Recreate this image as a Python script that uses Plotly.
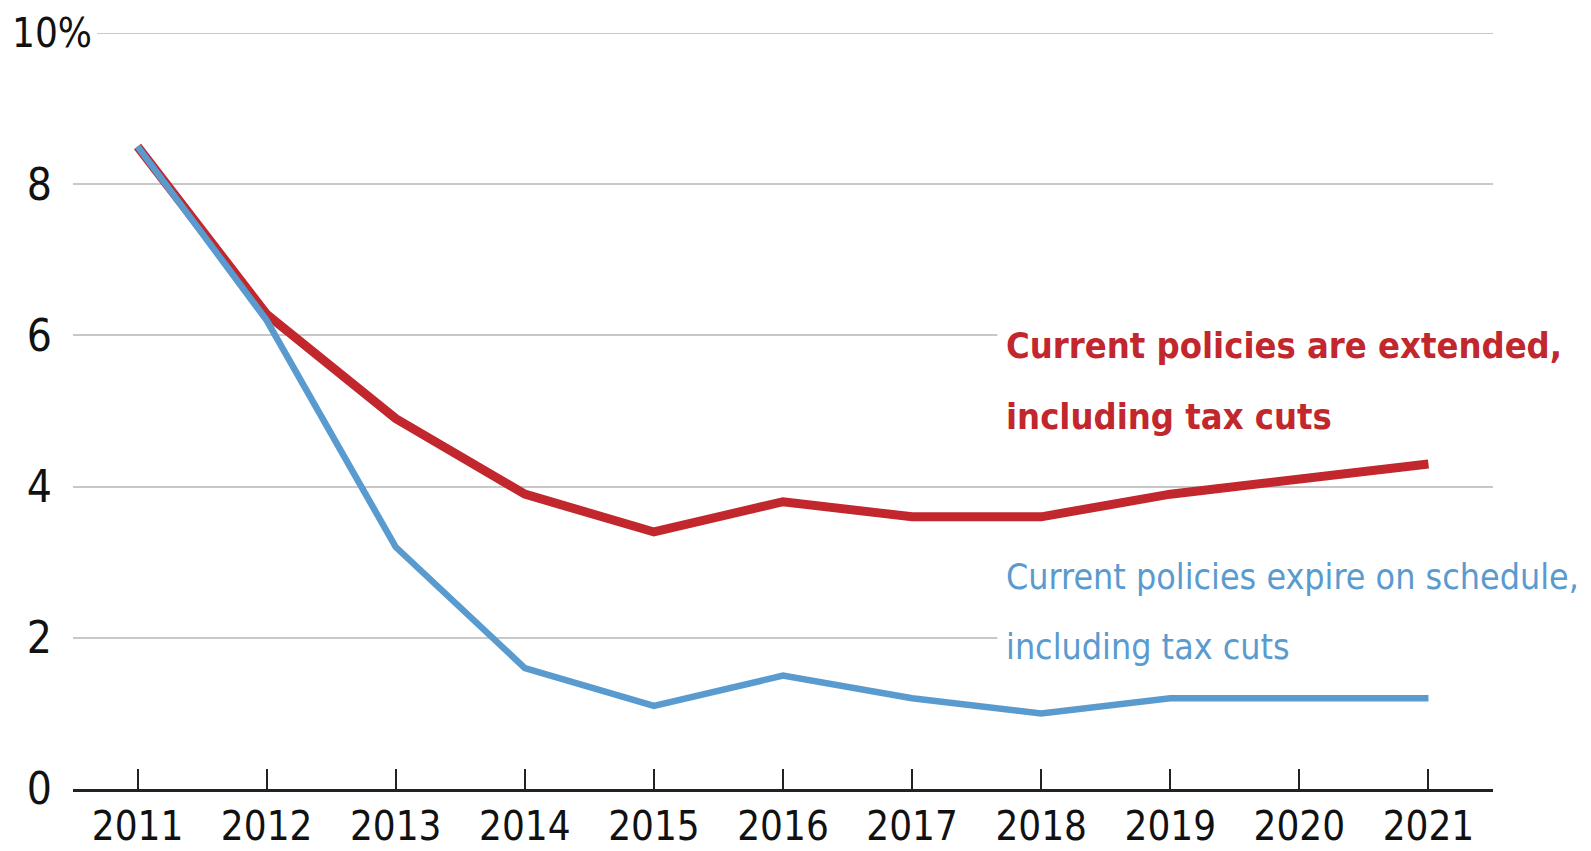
import plotly.graph_objects as go

years = [2011, 2012, 2013, 2014, 2015, 2016, 2017, 2018, 2019, 2020, 2021]
extended = [8.5, 6.28, 4.9, 3.9, 3.4, 3.8, 3.6, 3.6, 3.9, 4.1, 4.3]
expire = [8.5, 6.2, 3.2, 1.6, 1.1, 1.5, 1.2, 1.0, 1.2, 1.2, 1.2]

y_ticks = [0, 2, 4, 6, 8, 10]
y_labels = ["0", "2", "4", "6", "8", ""]

RED = "#c1272d"
BLUE = "#5a9bcf"
FONT = "DejaVu Sans Condensed, Liberation Sans Narrow, sans-serif"

fig = go.Figure()
fig.add_trace(go.Scatter(x=years, y=extended, mode="lines",
                         line=dict(color=RED, width=9), name="extended"))
fig.add_trace(go.Scatter(x=years, y=expire, mode="lines",
                         line=dict(color=BLUE, width=6.5), name="expire"))

# label lines: one annotation per line so the line spacing can match
labels = [
    ("Current policies are extended,", 5.87, RED, True, 36),
    ("including tax cuts", 4.93, RED, True, 36),
    ("Current policies expire on schedule,", 2.81, BLUE, False, 35.5),
    ("including tax cuts", 1.88, BLUE, False, 35.5),
]
for text, yv, col, bold, size in labels:
    fig.add_annotation(
        x=0.651, xref="paper", y=yv, yref="y", xanchor="left", yanchor="middle",
        text=f"<b>{text}</b>" if bold else text, showarrow=False, align="left",
        width=590, bgcolor="white", borderpad=8,
        font=dict(family=FONT, size=size, color=col),
    )

# top gridline starts after the "10%" label
fig.add_shape(type="line", xref="paper", yref="y", x0=0.017, x1=1, y0=10, y1=10,
              line=dict(color="#c8c8c8", width=2), layer="below")
fig.add_annotation(
    x=0.014, xref="paper", y=10, yref="y", xanchor="right", yanchor="middle",
    text="10%", showarrow=False, borderpad=0,
    font=dict(family=FONT, size=40, color="#111"),
)

# page body has an 8px margin, so the figure is sized 8px smaller
fig.update_layout(
    width=1583, height=843,
    paper_bgcolor="white", plot_bgcolor="white",
    showlegend=False,
    margin=dict(l=65, r=98, t=25, b=62),
    font=dict(family=FONT, size=40, color="#111"),
    xaxis=dict(range=[2010.5, 2021.5], tickvals=years, showgrid=False,
               ticks="inside", ticklen=20, tickwidth=2, tickcolor="#222",
               showline=True, linecolor="#222", linewidth=3,
               zeroline=False, fixedrange=True, automargin=False),
    yaxis=dict(range=[0, 10], tickvals=y_ticks, ticktext=y_labels,
               showgrid=True, gridcolor="#c8c8c8", gridwidth=2,
               zeroline=False, showline=False, ticks="",
               tickfont=dict(size=44),
               ticklabelstandoff=20, fixedrange=True, automargin=False),
)

fig.write_html("out.html")
